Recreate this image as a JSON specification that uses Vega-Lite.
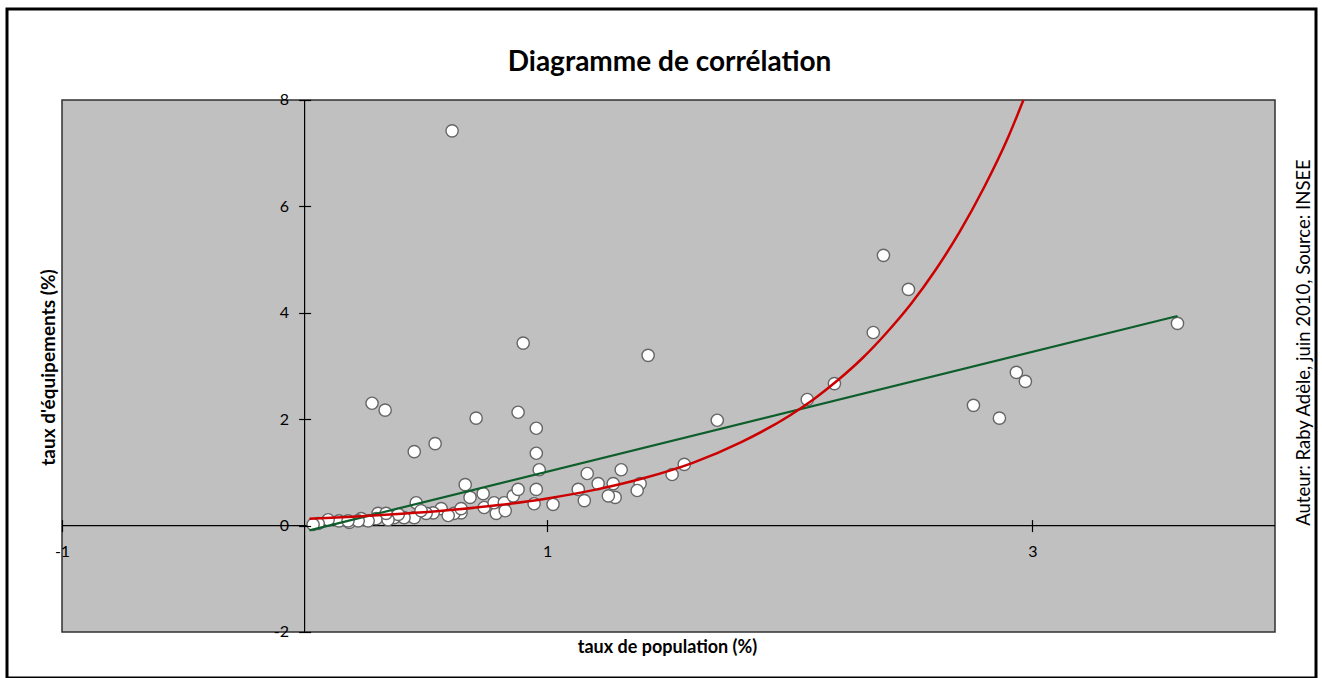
{
  "$schema": "https://vega.github.io/schema/vega-lite/v6.json",
  "width": 1309,
  "height": 669,
  "autosize": {"type": "none"},
  "padding": {"left": 7, "top": 9, "right": 6, "bottom": 0},
  "background": "white",
  "config": {
    "view": {"fill": "white", "stroke": "black", "strokeWidth": 3},
    "axis": {"grid": false, "domain": false, "labelFont": "Lato", "titleFont": "Lato", "labelColor": "black", "titleColor": "black", "tickColor": "black", "tickWidth": 1.2}
  },
  "title": {"text": "Diagramme de corrélation", "font": "Lato", "fontSize": 28, "fontWeight": "bold", "color": "black", "anchor": "middle", "offset": -68, "dx": 8},
  "datasets": {
    "plotarea": [{"x": -1, "x2": 4, "y": -2, "y2": 8}],
    "zeroV": [{"x": 0, "y": -2, "y2": 8}],
    "zeroH": [{"x": -1, "x2": 4, "y": 0}],
    "points": [
      {"x": 0.608, "y": 7.42}, {"x": 0.278, "y": 2.30}, {"x": 0.332, "y": 2.17}, {"x": 0.452, "y": 1.39},
      {"x": 0.538, "y": 1.54}, {"x": 0.707, "y": 2.02}, {"x": 0.901, "y": 3.43}, {"x": 0.880, "y": 2.13},
      {"x": 0.955, "y": 1.83}, {"x": 0.955, "y": 1.36}, {"x": 0.967, "y": 1.05}, {"x": 0.955, "y": 0.68},
      {"x": 0.946, "y": 0.41}, {"x": 1.024, "y": 0.40}, {"x": 1.128, "y": 0.68}, {"x": 0.662, "y": 0.77},
      {"x": 0.682, "y": 0.53}, {"x": 0.736, "y": 0.60}, {"x": 0.740, "y": 0.34}, {"x": 0.790, "y": 0.23},
      {"x": 0.781, "y": 0.43}, {"x": 0.823, "y": 0.43}, {"x": 0.827, "y": 0.28}, {"x": 0.860, "y": 0.56},
      {"x": 0.880, "y": 0.68}, {"x": 0.460, "y": 0.43}, {"x": 0.563, "y": 0.32}, {"x": 0.530, "y": 0.24},
      {"x": 0.501, "y": 0.23}, {"x": 0.452, "y": 0.15}, {"x": 0.410, "y": 0.15}, {"x": 0.369, "y": 0.15},
      {"x": 0.303, "y": 0.23}, {"x": 0.295, "y": 0.13}, {"x": 0.233, "y": 0.13}, {"x": 0.184, "y": 0.06},
      {"x": 0.142, "y": 0.09}, {"x": 0.097, "y": 0.11}, {"x": 0.056, "y": 0.04}, {"x": 0.035, "y": 0.02},
      {"x": 0.645, "y": 0.24}, {"x": 0.616, "y": 0.23}, {"x": 0.592, "y": 0.19}, {"x": 0.480, "y": 0.28},
      {"x": 0.386, "y": 0.21}, {"x": 0.344, "y": 0.11}, {"x": 0.262, "y": 0.09}, {"x": 0.221, "y": 0.09},
      {"x": 0.179, "y": 0.09}, {"x": 0.336, "y": 0.23}, {"x": 0.645, "y": 0.32}, {"x": 1.416, "y": 3.20},
      {"x": 1.701, "y": 1.98}, {"x": 2.072, "y": 2.37}, {"x": 2.184, "y": 2.67}, {"x": 1.565, "y": 1.15},
      {"x": 1.515, "y": 0.96}, {"x": 1.305, "y": 1.05}, {"x": 1.383, "y": 0.79}, {"x": 1.371, "y": 0.66},
      {"x": 1.272, "y": 0.79}, {"x": 1.280, "y": 0.53}, {"x": 1.252, "y": 0.56}, {"x": 1.210, "y": 0.79},
      {"x": 1.165, "y": 0.98}, {"x": 1.153, "y": 0.47}, {"x": 2.386, "y": 5.08}, {"x": 2.489, "y": 4.44},
      {"x": 2.344, "y": 3.63}, {"x": 2.934, "y": 2.88}, {"x": 2.971, "y": 2.71}, {"x": 2.757, "y": 2.26},
      {"x": 2.864, "y": 2.02}, {"x": 3.598, "y": 3.80}
    ],
    "linear": [{"x": 0.02, "y": -0.09}, {"x": 3.598, "y": 3.94}],
    "expo": [
      {"x": 0.02, "y": 0.13}, {"x": 0.2, "y": 0.167}, {"x": 0.4, "y": 0.221}, {"x": 0.6, "y": 0.292},
      {"x": 0.8, "y": 0.386}, {"x": 1.0, "y": 0.511}, {"x": 1.2, "y": 0.676}, {"x": 1.4, "y": 0.894},
      {"x": 1.6, "y": 1.18}, {"x": 1.8, "y": 1.57}, {"x": 2.0, "y": 2.07}, {"x": 2.1, "y": 2.38},
      {"x": 2.2, "y": 2.74}, {"x": 2.3, "y": 3.15}, {"x": 2.4, "y": 3.63}, {"x": 2.5, "y": 4.17},
      {"x": 2.6, "y": 4.80}, {"x": 2.7, "y": 5.52}, {"x": 2.8, "y": 6.35}, {"x": 2.9, "y": 7.30},
      {"x": 2.963, "y": 8.0}
    ]
  },
  "layer": [
    {
      "data": {"name": "plotarea"},
      "mark": {"type": "rect", "fill": "#c0c0c0", "stroke": "#303030", "strokeWidth": 1.5},
      "encoding": {
        "x": {"field": "x", "type": "quantitative", "scale": {"domain": [-1.2267, 4.169], "nice": false, "zero": false},
          "axis": {"orient": "bottom", "zindex": 2, "values": [-1, 1, 3], "offset": -158.4, "tickSize": 12, "labelPadding": 12, "labelFontSize": 16, "labelFlush": false, "labelOverlap": false, "labelExpr": "'' + datum.value",
            "title": "taux de population (%)", "titleFontSize": 18, "titleFontWeight": "bold", "titleX": 660, "titleY": 128, "titleBaseline": "middle"}},
        "x2": {"field": "x2"},
        "y": {"field": "y", "type": "quantitative", "scale": {"domain": [-2.8647, 9.7105], "nice": false, "zero": false},
          "axis": {"orient": "left", "zindex": 2, "values": [-2, 0, 2, 4, 6, 8], "offset": -303.6, "tickSize": 12, "labelPadding": 10, "labelFontSize": 16, "labelOverlap": false, "labelExpr": "'' + datum.value",
            "title": "taux d'équipements (%)", "titleFontSize": 19, "titleFontWeight": "bold", "titleAngle": 270, "titleBaseline": "middle", "titleX": -262.6, "titleY": 358}},
        "y2": {"field": "y2"}
      }
    },
    {
      "data": {"name": "zeroV"},
      "mark": {"type": "rule", "color": "black", "strokeWidth": 1.2},
      "encoding": {
        "x": {"field": "x", "type": "quantitative", "axis": null},
        "y": {"field": "y", "type": "quantitative", "axis": null},
        "y2": {"field": "y2"}
      }
    },
    {
      "data": {"name": "zeroH"},
      "mark": {"type": "rule", "color": "black", "strokeWidth": 1.2},
      "encoding": {
        "x": {"field": "x", "type": "quantitative", "axis": null},
        "x2": {"field": "x2"},
        "y": {"field": "y", "type": "quantitative",
          "axis": {"orient": "right", "zindex": 2, "labels": false, "ticks": false, "domain": false, "title": "Auteur: Raby Adèle, juin 2010, Source: INSEE", "titleFontSize": 18.5, "titleFontWeight": "normal", "titleAngle": 270, "titleBaseline": "middle", "titleX": -13, "titleY": 333}}
      }
    },
    {
      "data": {"name": "points"},
      "mark": {"type": "circle", "fill": "white", "stroke": "#666666", "strokeWidth": 1.4, "size": 150, "opacity": 1},
      "encoding": {
        "x": {"field": "x", "type": "quantitative", "axis": null},
        "y": {"field": "y", "type": "quantitative", "axis": null}
      }
    },
    {
      "data": {"name": "linear"},
      "mark": {"type": "line", "color": "#0d5e2b", "strokeWidth": 2.2},
      "encoding": {
        "x": {"field": "x", "type": "quantitative", "axis": null},
        "y": {"field": "y", "type": "quantitative", "axis": null}
      }
    },
    {
      "data": {"name": "expo"},
      "mark": {"type": "line", "color": "#cc0000", "strokeWidth": 2.5, "interpolate": "monotone"},
      "encoding": {
        "x": {"field": "x", "type": "quantitative", "axis": null},
        "y": {"field": "y", "type": "quantitative", "axis": null}
      }
    }
  ],
  "resolve": {"axis": {"x": "independent", "y": "independent"}}
}
